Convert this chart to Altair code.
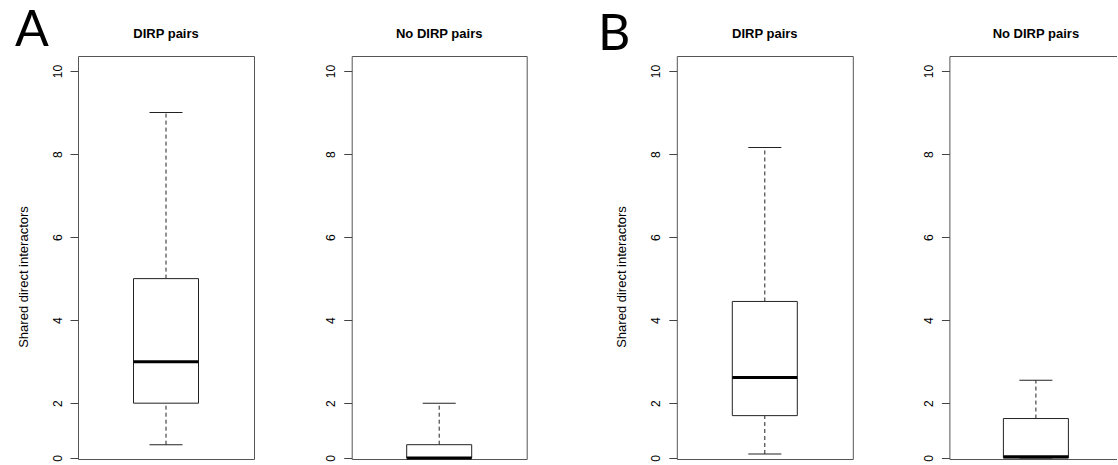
import altair as alt
import pandas as pd

# ---- data ----
panels = ["A1", "A2", "B1", "B2"]
panel_titles = ["DIRP pairs", "No DIRP pairs", "DIRP pairs", "No DIRP pairs"]
lower = [1.0, 0.0, 0.3, 0.0]
q1 = [2.0, 0.0, 1.7, 0.0]
median = [3.0, 0.0, 2.62, 0.1]
q3 = [5.0, 1.0, 4.45, 1.63]
upper = [9.0, 2.0, 8.16, 2.55]
tick_values = [0, 2, 4, 6, 8, 10]
group_letters = ["A", "B"]
y_title = "Shared direct interactors"

df = pd.DataFrame({
    "panel": panels,
    "title": panel_titles,
    "lower": lower,
    "q1": q1,
    "median": median,
    "q3": q3,
    "upper": upper,
})

FONT = "Liberation Sans"
LINE = "#222"
PLOT_H = 403
widths = {"A1": 176, "A2": 175, "B1": 176, "B2": 173}

# piecewise scale: the figure's strip between 0 and 1 is compressed
yscale = alt.Scale(domain=[0, 1, 10], range=[402, 388.7, 15])


def make_axis(show_title):
    kw = dict(
        values=tick_values,
        labelAngle=270,
        labelAlign="center",
        labelBaseline="alphabetic",
        labelFont=FONT,
        labelFontSize=12,
        labelColor="#000",
        labelPadding=9,
        tickSize=8,
        tickColor="#444",
        domain=False,
        grid=False,
    )
    if show_title:
        kw.update(
            title=y_title,
            titleFont=FONT,
            titleFontSize=13,
            titleFontWeight="normal",
            titleColor="#000",
            titleAngle=270,
            titleAlign="center",
            titleBaseline="alphabetic",
            titleX=-51,
            titleY=220.5,
        )
    else:
        kw.update(title=None)
    return alt.Axis(**kw)


def panel_chart(pid, title, first):
    d = df[df["panel"] == pid]
    base = alt.Chart(d)
    ax = make_axis(first)
    x = alt.X("panel:N", axis=None)

    w_up = base.mark_rule(color=LINE, strokeDash=[4, 3], strokeWidth=1).encode(
        x=x, y=alt.Y("q3:Q", scale=yscale, axis=ax), y2="upper:Q")
    w_lo = base.mark_rule(color=LINE, strokeDash=[4, 3], strokeWidth=1).encode(
        x=x, y=alt.Y("lower:Q", scale=yscale, axis=ax), y2="q1:Q")
    cap_up = base.mark_tick(orient="horizontal", size=33, thickness=1,
                            color=LINE, opacity=1).encode(
        x=x, y=alt.Y("upper:Q", scale=yscale, axis=ax))
    cap_lo = base.mark_tick(orient="horizontal", size=33, thickness=1,
                            color=LINE, opacity=1).encode(
        x=x, y=alt.Y("lower:Q", scale=yscale, axis=ax))
    box = base.mark_bar(size=65, fill="white", stroke=LINE, strokeWidth=1).encode(
        x=x, y=alt.Y("q1:Q", scale=yscale, axis=ax), y2="q3:Q")
    med = base.mark_tick(orient="horizontal", size=65, thickness=3,
                         color="#000", opacity=1).encode(
        x=x, y=alt.Y("median:Q", scale=yscale, axis=ax))

    return alt.layer(w_up, w_lo, cap_up, cap_lo, box, med).properties(
        width=widths[pid],
        height=PLOT_H,
        title=alt.TitleParams(
            text=title, font=FONT, fontSize=13, fontWeight="bold", color="#000",
            anchor="middle", frame="group", baseline="alphabetic", offset=5.5,
        ),
    )


charts = [panel_chart(p, t, p in ("A1", "B1")) for p, t in zip(panels, panel_titles)]


def letter_title(letter, dx, dy):
    return alt.TitleParams(
        text=letter, font="Lato", fontSize=50, fontWeight="normal", color="#000",
        anchor="start", frame="bounds", baseline="alphabetic", offset=0, dx=dx, dy=dy,
    )


group_a = alt.hconcat(
    charts[0], charts[1], spacing=97.7, bounds="flush",
    title=letter_title(group_letters[0], -1.6, 69),
).resolve_scale(x="independent", y="independent")
group_b = alt.hconcat(
    charts[2], charts[3], spacing=96.6, bounds="flush",
    title=letter_title(group_letters[1], -17.3, 73),
).resolve_scale(x="independent", y="independent")

chart = alt.hconcat(group_a, group_b, spacing=69.8).resolve_scale(
    x="independent", y="independent"
).properties(
    padding={"left": 14, "top": 6, "right": -6, "bottom": 0},
    background="white",
).configure_view(
    stroke="#555", strokeWidth=1
)

chart.save("out.html", embed_options={"renderer": "svg", "actions": False})
